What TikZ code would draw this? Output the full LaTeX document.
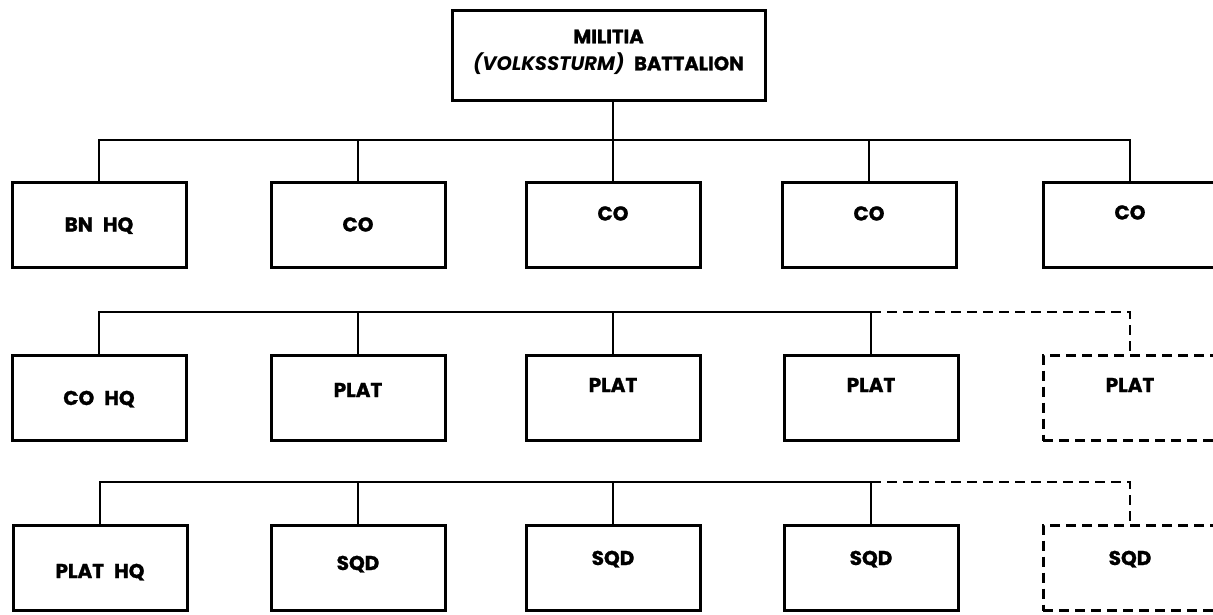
\documentclass[tikz,border=0pt]{standalone}
\usepackage{fontspec}
\setmainfont{Poppins}[BoldFeatures={FakeBold=1.2}]
\begin{document}
\begin{tikzpicture}[x=1pt,y=-1pt,
  box/.style={draw, line width=3pt, minimum width=174pt, minimum height=85pt, inner sep=0pt, font=\bfseries\fontsize{20}{24}\selectfont},
  dbox/.style={box, dash pattern=on 10pt off 6pt},
  lift/.code={\pgfmathsetmacro\liftH{24-#1}\pgfmathsetmacro\liftD{10+#1}\tikzset{text height=\liftH pt, text depth=\liftD pt}},
  conn/.style={line width=2.4pt},
  dconn/.style={conn, dash pattern=on 10pt off 6pt}]
\useasboundingbox (0,0) rectangle (1213,614);
\clip (0,0) rectangle (1213,614);
% top
\node[box, minimum width=313pt, minimum height=90pt, align=center, font=\bfseries\fontsize{19.5}{27}\selectfont] (top) at (608.5,55) {MILITIA\\\textit{(VOLKSSTURM)}\hspace{0.5em}BATTALION\\[-17pt]};
% row 1
\node[box, lift=0]  (b1) at (99,224.5)  {BN\hspace{0.5em}HQ};
\node[box, lift=0]  (b2) at (358,224.5) {CO};
\node[box, lift=11] (b3) at (613,224.5) {CO};
\node[box, lift=11] (b4) at (869,224.5) {CO};
\node[box, lift=12] (b5) at (1130,224.5) {CO};
% row 2
\node[box, lift=0]  (c1) at (99,398)  {CO\hspace{0.5em}HQ};
\node[box, lift=8]  (p2) at (358,398) {PLAT};
\node[box, lift=13] (p3) at (613,398) {PLAT};
\node[box, lift=13] (p4) at (871,398) {PLAT};
\node[dbox, lift=13] (p5) at (1130,398) {PLAT};
% row 3
\node[box, lift=-3] (h1) at (100,568) {PLAT\hspace{0.5em}HQ};
\node[box, lift=5]  (s2) at (358,568) {SQD};
\node[box, lift=10] (s3) at (613,568) {SQD};
\node[box, lift=10] (s4) at (871,568) {SQD};
\node[dbox, lift=10] (s5) at (1130,568) {SQD};
% connectors row 1
\coordinate (bus1) at (0,140);
\draw[conn] (top.south -| b3.north) -- (b3.north);
\draw[conn] (b1.north) -- (b1.north |- bus1) -- (b5.north |- bus1) -- (b5.north);
\draw[conn] (b2.north) -- (b2.north |- bus1);
\draw[conn] (b4.north) -- (b4.north |- bus1);
% connectors row 2
\coordinate (bus2) at (0,312);
\draw[conn] (c1.north) -- (c1.north |- bus2) -- (p4.north |- bus2) -- (p4.north);
\draw[conn] (p2.north) -- (p2.north |- bus2);
\draw[conn] (p3.north) -- (p3.north |- bus2);
\draw[dconn] (p4.north |- bus2) -- (p5.north |- bus2) -- (p5.north);
% connectors row 3
\coordinate (bus3) at (0,482);
\draw[conn] (h1.north) -- (h1.north |- bus3) -- (s4.north |- bus3) -- (s4.north);
\draw[conn] (s2.north) -- (s2.north |- bus3);
\draw[conn] (s3.north) -- (s3.north |- bus3);
\draw[dconn] (s4.north |- bus3) -- (s5.north |- bus3) -- (s5.north);
\end{tikzpicture}
\end{document}
